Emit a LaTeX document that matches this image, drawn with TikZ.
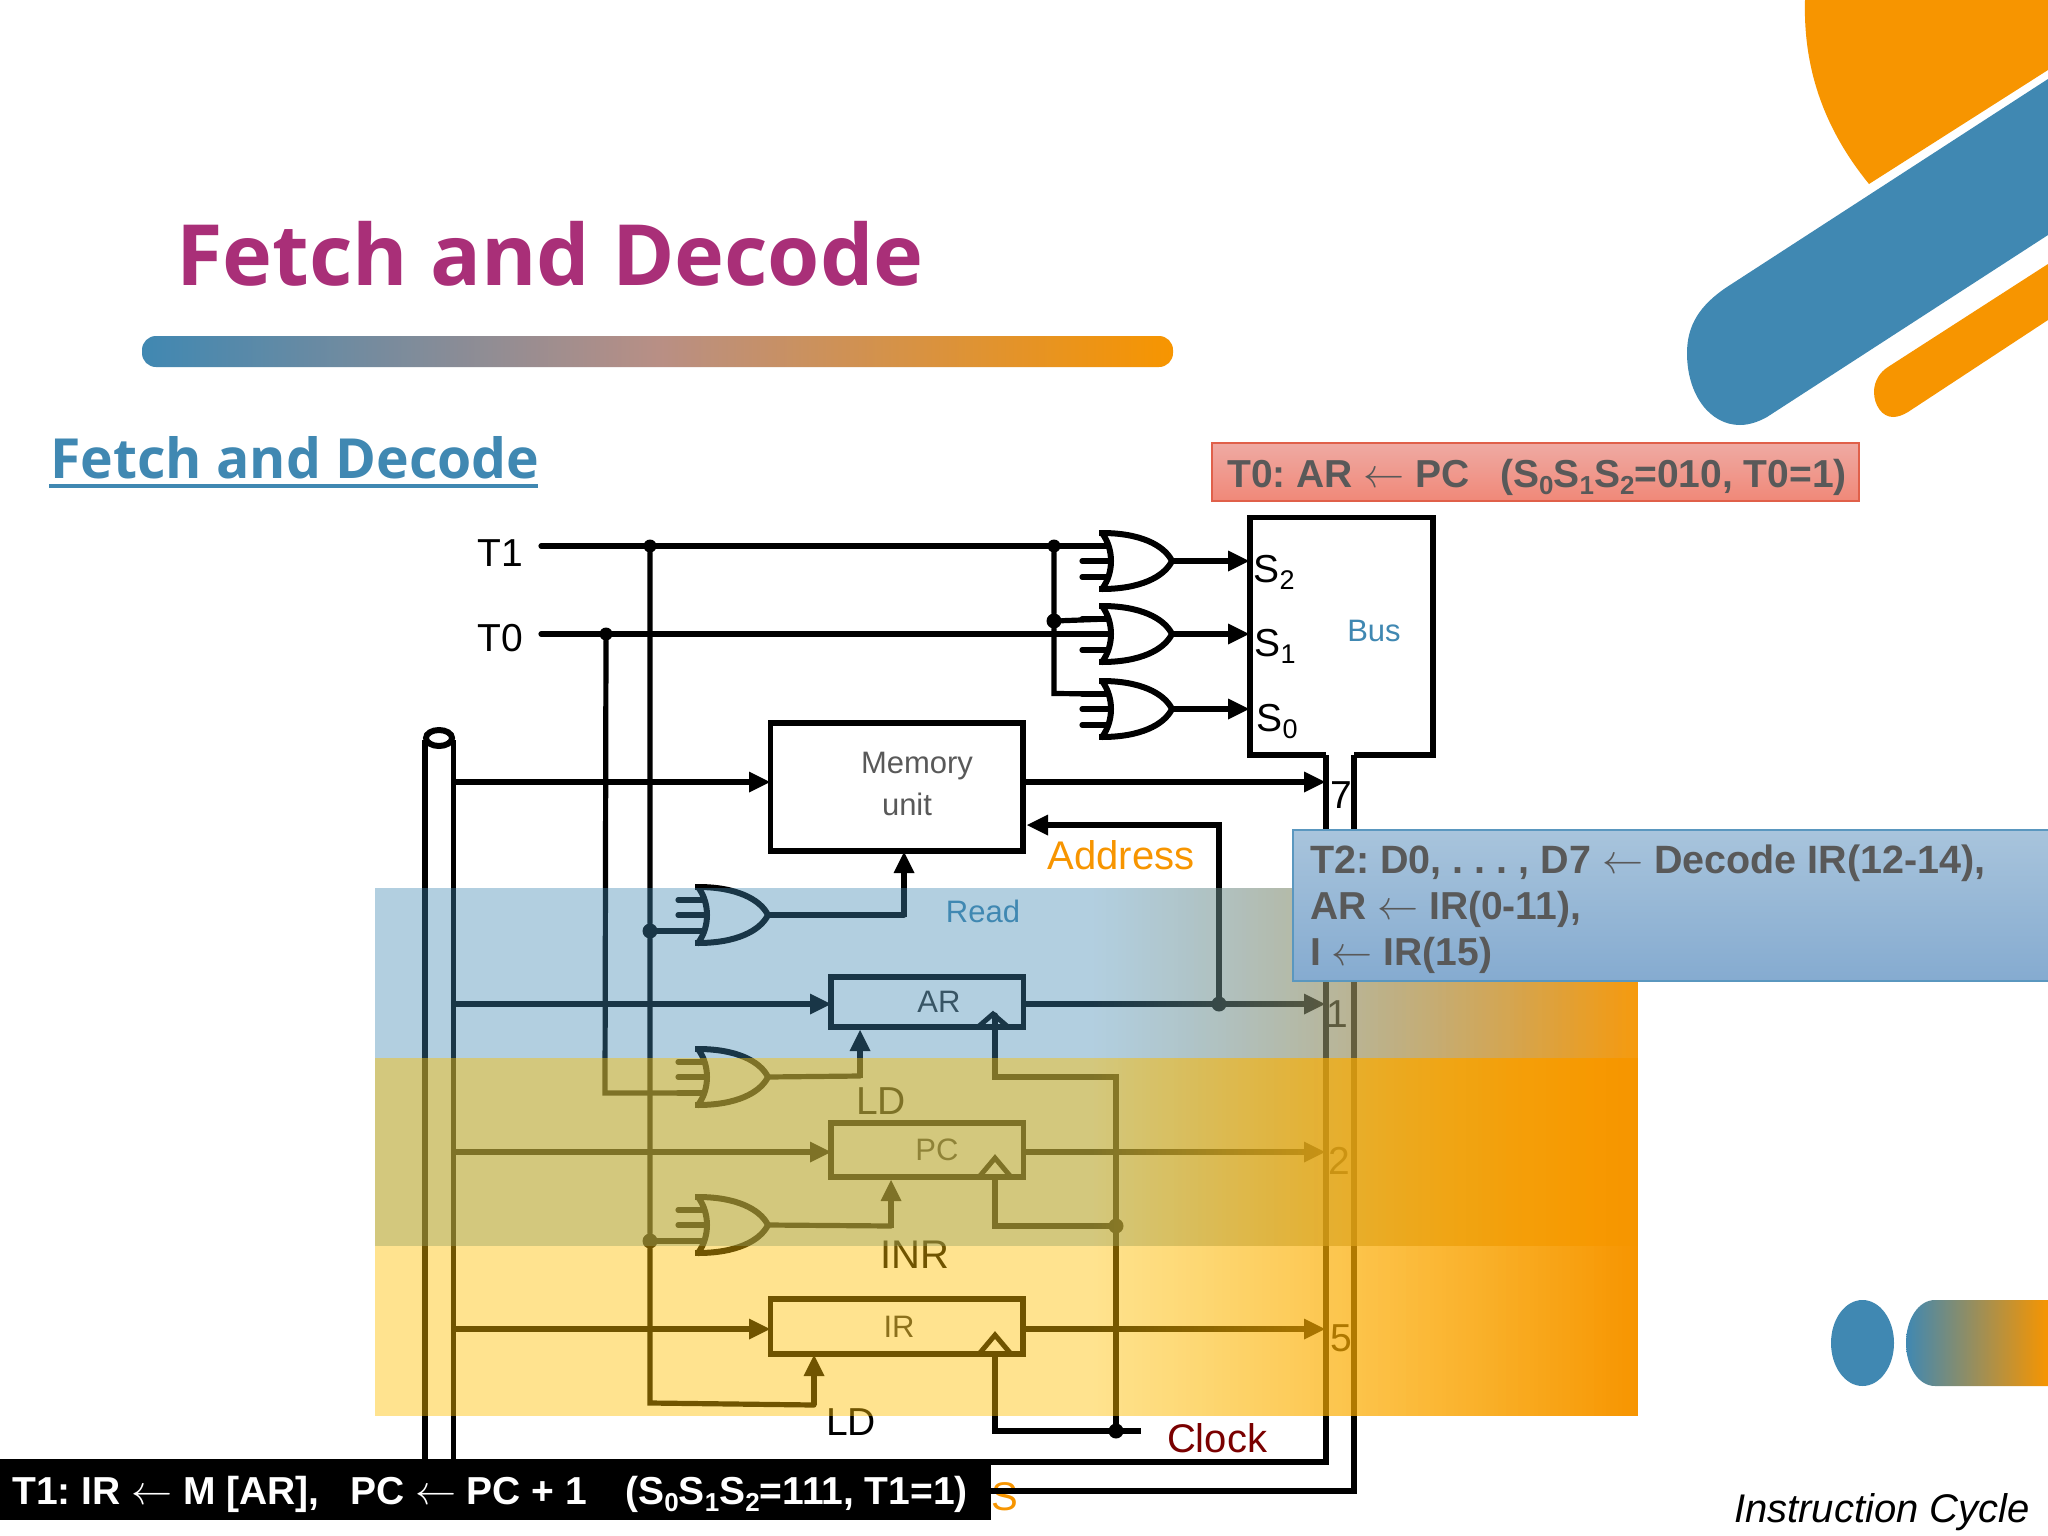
\documentclass[tikz,border=0pt]{standalone}
\usepackage{fontspec}
\setmainfont{Liberation Sans}
\newfontfamily\titlef{Open Sans}
\usetikzlibrary{arrows.meta,calc}
\frenchspacing
\definecolor{hblue}{HTML}{4088B2}
\definecolor{horange}{HTML}{F79500}
\definecolor{hmid}{HTML}{B88F85}
\definecolor{hyel}{HTML}{FFC000}
\definecolor{hpurple}{HTML}{A92F78}
\definecolor{hgrey}{HTML}{595959}
\definecolor{hclock}{HTML}{7A0000}
\definecolor{redtop}{HTML}{EFAAA3}
\definecolor{redbot}{HTML}{F08878}
\definecolor{redline}{HTML}{E0604A}
\definecolor{bluetop}{HTML}{A8C4DC}
\definecolor{bluebot}{HTML}{85ABD0}
\definecolor{blueline}{HTML}{5A97BF}
\newcommand{\fs}[1]{\fontsize{#1}{#1}\selectfont}
\newcommand{\sbs}[3]{\raisebox{#1}{\fs{#2}#3}}
\newcommand{\lar}{\scalebox{1.65}{$\leftarrow$}}
\newcommand{\orgate}[3]{%
  \coordinate (#1-in1) at (#2+6,#3-15);
  \coordinate (#1-in2) at (#2+9,#3);
  \coordinate (#1-in3) at (#2+6,#3+16);
  \coordinate (#1-out) at (#2+70,#3);
  \draw[wire] (#2-20,#3-15) -- (#1-in1);
  \draw[wire] (#2-20,#3) -- (#1-in2);
  \draw[wire] (#2-20,#3+16) -- (#1-in3);
  \draw[gatel] (#2,#3-28) .. controls (#2+12,#3-12) and (#2+12,#3+12) .. (#2,#3+28);
  \draw[gatel] (#2,#3-28) .. controls (#2+38,#3-28) and (#2+62,#3-16) .. (#1-out);
  \draw[gatel] (#2,#3+28) .. controls (#2+38,#3+28) and (#2+62,#3+16) .. (#1-out);
  \fill (#2-3,#3-31) rectangle (#2+4,#3-25);
  \fill (#2-3,#3+25) rectangle (#2+4,#3+31);
}
\tikzset{
  wire/.style={line width=5.2pt,line cap=round,line join=miter},
  gatel/.style={line width=6pt,line cap=round},
  arr/.style={line width=5.2pt,line cap=butt,-{Triangle[length=21pt,width=21pt,line width=0pt]}},
  dot/.style={circle,fill=black,inner sep=0pt,minimum size=13pt},
  reg/.style={draw,line width=5.5pt,inner sep=0pt,outer sep=0pt,fill=none},
  lab/.style={font=\fs{39},inner sep=0pt},
  smlab/.style={font=\fs{31},inner sep=0pt,text=hgrey},
}
\begin{document}
\begin{tikzpicture}[x=1pt,y=-1pt]
\useasboundingbox (0,0) rectangle (2048,1536);
\fill[white] (0,0) rectangle (2048,1536);
% decoration
\fill[horange] (1805,0) .. controls (1803,70) and (1825,130) .. (1869,184) -- (2048,70) -- (2048,0) -- cycle;
\fill[hblue] (1727,287) -- (2048,79) -- (2048,235) -- (1767,417) .. controls (1760,421) and (1750,425) .. (1740,425) .. controls (1710,425) and (1687,395) .. (1687,353) .. controls (1687,325) and (1700,305) .. (1727,287) -- cycle;
\fill[horange] (1888,367) -- (2048,264) -- (2048,320) -- (1908,412) .. controls (1903,415) and (1898,417) .. (1893,417) .. controls (1882,417) and (1874,405) .. (1874,392) .. controls (1874,381) and (1880,372) .. (1888,367) -- cycle;
\fill[hblue] (1862.5,1343) ellipse [x radius=31.5,y radius=43];
\shade[left color=hblue,right color=horange] (2048,1300) -- (1935,1300) .. controls (1918,1300) and (1906,1320) .. (1906,1343) .. controls (1906,1366) and (1918,1386) .. (1935,1386) -- (2048,1386) -- cycle;
% title
\node[anchor=base west,inner sep=0pt,text=hpurple,font=\titlef\bfseries\fs{84.5}] (title) at (176,285) {Fetch and Decode};
\shade[left color=hblue,right color=horange,middle color=hmid,rounded corners=14pt] (142,336) rectangle (1173,367);
\node[anchor=base west,inner sep=0pt,text=hblue,font=\titlef\bfseries\fs{55.3}] (sub) at (50,478) {Fetch and Decode};
\fill[hblue] (49,484) rectangle (538,488);
% cylinder bus
\coordinate (cylL) at (425,740); \coordinate (cylR) at (453.5,740);
\draw[wire,line cap=butt] (cylL) -- (425,1470);
\draw[wire,line cap=butt] (cylR) -- (453.5,1470);
\draw[line width=6pt] (439,738) ellipse [x radius=13,y radius=8];
% common bus on right
\coordinate (neckL) at (1326,755); \coordinate (neckR) at (1354,755);
\draw[line width=5.5pt,line join=miter] (neckL) -- (1250,755) -- (1250,517.5) -- (1433,517.5) -- (1433,755) -- (neckR);
\coordinate (botL) at (1326,1462); \coordinate (botR) at (1354,1491);
\draw[wire,line cap=butt] (neckL) -- (botL) -- (900,1462);
\draw[wire,line cap=butt] (neckR) -- (botR) -- (950,1491);
% registers
\node[reg,minimum width=252.5pt,minimum height=128pt] (mem) at (896.5,787) {};
\node[reg,minimum width=192.5pt,minimum height=50pt] (ar) at (927,1002) {};
\node[reg,minimum width=192.5pt,minimum height=54pt] (pc) at (927,1150) {};
\node[reg,minimum width=252.5pt,minimum height=55pt] (ir) at (896.5,1326.5) {};
\node[smlab] (memt1) at (917,766) {Memory};
\node[smlab] (memt2) at (907,804) {unit};
\node[smlab,text=black!80] (art) at (939,1002) {AR};
\node[smlab,text=black!80] (pct) at (937,1150) {PC};
\node[smlab,text=black!80] (irt) at (899,1327) {IR};
% clock triangles
\draw[line width=5pt,line join=miter] (978,1027) -- (993,1014) -- (1008,1027);
\draw[line width=5pt,line join=miter] (979,1177) -- (995,1158) -- (1011,1177);
\draw[line width=5pt,line join=miter] (979,1354) -- (995,1335) -- (1011,1354);
% gates
\orgate{g2}{1102}{561}
\orgate{g1}{1102}{634}
\orgate{g0}{1102}{709}
\orgate{gr}{698}{915}
\orgate{gl}{698}{1077}
\orgate{gi}{698}{1225}
% T labels
\node[lab] (t1) at (500,553) {T1};
\node[lab] (t0) at (500,638) {T0};
\coordinate (t1s) at (541,546); \coordinate (t0s) at (541,634);
\draw[wire] (t1s) -- (g2-in1);
\draw[wire] (t0s) -- (g1-in2);
% junctions
\node[dot,minimum size=13pt] (j1) at (650,546) {};
\node[dot,minimum size=13pt] (j2) at (1054,546) {};
\node[dot,minimum size=13pt] (j3) at (606,634) {};
\node[dot,minimum size=15pt] (j4) at (1054,621) {};
\node[dot,minimum size=15pt] (j5) at (650,931) {};
\node[dot,minimum size=15pt] (j6) at (650,1241) {};
\draw[wire] (j2) -- (j4) -- (1054,693.5) -- (g0-in1);
\draw[wire] (j4) -- (g1-in1);
\draw[wire] (j1) -- (j5) -- (j6) -- (650,1403) -- (814,1405);
\coordinate (irld) at (814,1355);
\draw[arr] (814,1405) -- (irld);
\draw[wire] (j5) -- (gr-in3);
\draw[wire] (j6) -- (gi-in3);
\draw[wire] (j3) -- (605,1093) -- (gl-in3);
% gate outputs
\draw[arr] (g2-out) -- (1249,561);
\draw[arr] (g1-out) -- (1249,634);
\draw[arr] (g0-out) -- (1249,709);
\draw[wire] (gr-out) -- (904,915);
\draw[arr] (904,917) -- (904,852);
\draw[wire] (gl-out) -- (860,1076);
\draw[arr] (860,1078) -- (860,1030);
\draw[wire] (gi-out) -- (891,1226);
\draw[arr] (891,1228) -- (891,1180);
% bus to registers
\draw[arr] (453.5,782) -- (770,782);
\draw[arr] (453.5,1004) -- (831,1004);
\draw[arr] (453.5,1152) -- (831,1152);
\draw[arr] (453.5,1329) -- (770,1329);
% registers to common bus
\draw[arr] (1024,782) -- (1325,782);
\draw[arr] (1024,1004) -- (1325,1004);
\draw[arr] (1024,1152) -- (1325,1152);
\draw[arr] (1024,1329) -- (1325,1329);
\node[dot,minimum size=15pt] (j7) at (1219,1004) {};
\draw[wire] (j7) -- (1219,825) -- (1050,825);
\draw[arr] (1050,825) -- (1027,825);
% clock
\node[dot,minimum size=15pt] (j8) at (1116,1226) {};
\node[dot,minimum size=15pt] (j9) at (1116,1431) {};
\coordinate (clk) at (1141,1431);
\draw[wire] (995,1015) -- (995,1077) -- (1116,1077) -- (j8) -- (j9);
\draw[wire] (995,1178) -- (995,1226) -- (j8);
\draw[wire,line cap=butt] (995,1355) -- (995,1431) -- (clk);
% labels
\node[lab,font=\fs{40},text=horange] (addr) at (1121,855) {Address};
\node[lab,font=\fs{40},text=hclock] (clock) at (1217,1438) {Clock};
\node[font=\fs{31},inner sep=0pt,text=hblue] (read) at (983,911) {Read};
\node[font=\fs{31},inner sep=0pt,text=hblue] (bus) at (1374,631) {Bus};
\node[lab] (ld1) at (881,1101) {LD};
\node[lab,font=\fs{40}] (inr) at (915,1255) {INR};
\node[lab] (ld2) at (851,1422) {LD};
\node[lab] (n7) at (1341,795) {7};
\node[lab] (n1) at (1337,1014) {1};
\node[lab] (n2) at (1339,1161) {2};
\node[lab] (n5) at (1341,1338) {5};
\node[lab] (s2) at (1274,572) {S\sbs{-7pt}{27}{2}};
\node[lab] (s1) at (1275,646) {S\sbs{-7pt}{27}{1}};
\node[lab] (s0) at (1277,722) {S\sbs{-7pt}{27}{0}};
% translucent bands
\fill[hblue,fill opacity=.4] (375,888) rectangle (1090,1246);
\foreach \x in {1090,1094,...,1634}{
  \pgfmathsetmacro{\tv}{(\x-1090)/548}
  \pgfmathsetmacro{\pv}{100*\tv}
  \pgfmathsetmacro{\al}{.4+.55*\tv}
  \colorlet{cc}{horange!\pv!hblue}
  \fill[cc,fill opacity=\al] (\x,888) rectangle ({\x+4},1246);
}
\fill[hyel,fill opacity=.44] (375,1058) rectangle (1090,1416);
\foreach \x in {1090,1094,...,1634}{
  \pgfmathsetmacro{\tv}{(\x-1090)/548}
  \pgfmathsetmacro{\pv}{100*\tv}
  \pgfmathsetmacro{\al}{.44+.56*\tv}
  \colorlet{cc}{horange!\pv!hyel}
  \fill[cc,fill opacity=\al] (\x,1058) rectangle ({\x+4},1416);
}
% annotation boxes
\node[lab,font=\fs{40},text=horange] (s3) at (1005,1497) {S};
\draw[wire,line cap=butt] (985,1491) -- (botR);
\shade[top color=redtop,bottom color=redbot,draw=redline,line width=1.5pt] (1212,443) rectangle (1859,501);
\node[inner sep=0pt,anchor=west,text=hgrey,font=\bfseries\fs{39}] (t0box) at (1227,477) {T0: AR \lar\ PC\hspace{.5em} (S\sbs{-7pt}{26}{0}S\sbs{-7pt}{26}{1}S\sbs{-7pt}{26}{2}=010, T0=1)};
\shade[top color=bluetop,bottom color=bluebot,draw=blueline,line width=1.5pt] (1293,830) rectangle (2052,981);
\node[inner sep=0pt,anchor=west,text=hgrey,font=\bfseries\fs{39.5}] (t2a) at (1310,863) {T2: D0, . . . , D7 \lar\ Decode IR(12-14),};
\node[inner sep=0pt,anchor=west,text=hgrey,font=\bfseries\fs{39}] (t2b) at (1310,909) {AR \lar\ IR(0-11),};
\node[inner sep=0pt,anchor=west,text=hgrey,font=\bfseries\fs{39}] (t2c) at (1310,955) {I \lar\ IR(15)};
\fill[black] (0,1459) rectangle (991,1520);
\node[inner sep=0pt,anchor=west,text=white,font=\bfseries\fs{39}] (t1box) at (12,1494) {T1: IR \lar\ M [AR],\hspace{.5em} PC \lar\ PC + 1\hspace{.7em} (S\sbs{-7pt}{26}{0}S\sbs{-7pt}{26}{1}S\sbs{-7pt}{26}{2}=111, T1=1)};
\node[inner sep=0pt,font=\itshape\fs{40}] (ic) at (1882,1512) {Instruction Cycle};
\end{tikzpicture}
\end{document}
